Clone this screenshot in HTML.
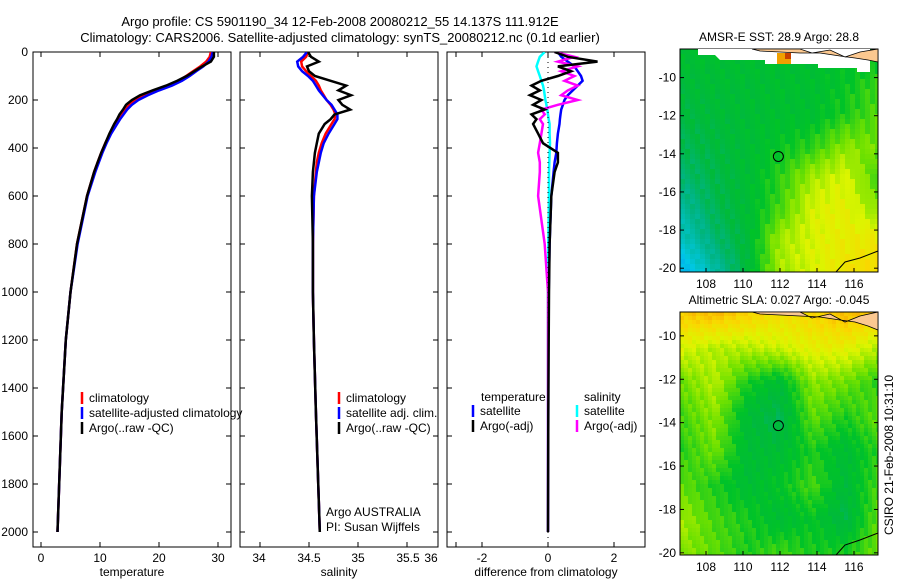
<!DOCTYPE html>
<html><head><meta charset="utf-8"><style>
body{margin:0;background:#fff;}
svg{display:block;font-family:"Liberation Sans",sans-serif;}
text{font-size:12px;fill:#000;}
</style></head><body>
<svg id="c" width="900" height="580"></svg>
<script>
const depths=[0,20,40,60,80,100,120,140,160,180,200,220,240,260,280,300,340,380,420,460,500,600,800,1000,1200,1500,2000];
const tempClim=[28.8,28.6,28,27,25.8,24.6,23.3,21.6,19.4,17.5,16,15,14.2,13.6,13.1,12.6,11.7,10.9,10.2,9.6,9,7.8,6.1,5,4.2,3.5,2.8];
const tempSat=[29.1,28.9,28.4,27.5,26.3,25.2,23.9,22.2,20,18.1,16.5,15.4,14.6,14,13.4,12.9,11.9,11.1,10.4,9.8,9.2,7.9,6.2,5,4.2,3.5,2.8];
const tempArgo=[29.3,29.3,28.8,27.3,26,24.7,23.1,21.2,18.9,16.8,15.4,14.4,13.9,13.3,12.9,12.4,11.6,10.9,10.2,9.6,9,7.8,6.1,5,4.2,3.5,2.8];
const salClim=[34.49,34.47,34.42,34.43,34.47,34.52,34.57,34.6,34.62,34.65,34.68,34.72,34.75,34.77,34.76,34.73,34.67,34.63,34.6,34.58,34.57,34.55,34.54,34.54,34.55,34.57,34.61];
const salSat=[34.48,34.44,34.38,34.39,34.43,34.49,34.54,34.57,34.6,34.64,34.68,34.73,34.76,34.79,34.79,34.76,34.7,34.65,34.62,34.6,34.58,34.55,34.54,34.54,34.55,34.57,34.61];
const salArgo=[34.49,34.52,34.6,34.48,34.5,34.56,34.72,34.88,34.8,34.93,34.8,34.84,34.92,34.76,34.72,34.66,34.6,34.58,34.56,34.55,34.54,34.53,34.54,34.54,34.55,34.57,34.61];
const dTempSat=[0.3,0.4,0.6,0.8,0.9,1.0,1.05,0.9,0.75,0.6,0.5,0.45,0.4,0.38,0.36,0.35,0.3,0.27,0.25,0.2,0.17,0.1,0.05,0.02,0.01,0.01,0];
const dTempArgo=[0.2,0.6,1.5,0.3,0.7,0.3,-0.2,-0.5,-0.25,-0.55,-0.2,-0.45,-0.1,-0.5,-0.35,-0.45,-0.3,-0.15,0.3,0.3,0.2,0.1,0.05,0.03,0.02,0.01,0];
const dSalSat=[-0.1,-0.25,-0.3,-0.35,-0.3,-0.25,-0.2,-0.15,-0.12,-0.1,-0.08,-0.05,-0.02,0,0.02,0.05,0.05,0.06,0.05,0.04,0.03,0.03,0.01,0,0,0,0];
const dSalArgo=[0.2,0.8,0.3,0.9,0.4,0.8,0.5,0.9,0.6,0.4,0.9,0.3,-0.2,-0.1,-0.25,-0.15,-0.2,-0.25,-0.3,-0.25,-0.25,-0.3,-0.1,0,0,0,0];
const depthTicks=[0,200,400,600,800,1000,1200,1400,1600,1800,2000];
const tempTicks=[0,10,20,30];
const salTicks=[34,34.5,35,35.5,36];
const diffTicks=[-2,0,2];
const lonTicks=[108,110,112,114,116];
const latTicks=[-10,-12,-14,-16,-18,-20];
const sstGrid=[[.48,.48,.48,.48,.48,.48,.48],[.46,.47,.47,.48,.48,.5,.54],[.45,.46,.47,.48,.48,.52,.56],[.43,.45,.47,.5,.53,.6,.58],[.4,.44,.47,.53,.62,.66,.55],[.35,.43,.47,.55,.66,.68,.6],[.3,.4,.46,.62,.66,.69,.7],[.2,.34,.46,.62,.66,.71,.74]];
const slaGrid=[[.76,.78,.75,.72,.74,.78,.76],[.66,.63,.63,.65,.68,.68,.63],[.58,.63,.52,.47,.6,.58,.53],[.55,.6,.47,.43,.57,.52,.57],[.53,.58,.47,.47,.52,.47,.53],[.57,.52,.47,.5,.55,.46,.55],[.62,.55,.52,.47,.5,.44,.57],[.6,.57,.52,.55,.52,.52,.58]];

const NS="http://www.w3.org/2000/svg";
const svg=document.getElementById('c');
function el(tag,attrs,parent){const e=document.createElementNS(NS,tag);for(const k in attrs)e.setAttribute(k,attrs[k]);(parent||svg).appendChild(e);return e;}
function txt(x,y,s,anchor,parent,size){const t=el('text',{x:x,y:y,'text-anchor':anchor||'start'},parent);if(size)t.style.fontSize=size+'px';t.textContent=s;return t;}
const yD=d=>52+0.24*d;

let t1=txt(340,26,"Argo profile: CS 5901190_34 12-Feb-2008 20080212_55 14.137S 111.912E",'middle',null,13);

let t2=txt(340,42,"Climatology: CARS2006. Satellite-adjusted climatology: synTS_20080212.nc (0.1d earlier)",'middle',null,13);


function panel(name,x0,x1,xf,xticks,xlabs,xtitle,series,showY){
  const g=el('g',{});
  
  const clip='cl'+name;
  const cp=el('clipPath',{id:clip},g);el('rect',{x:x0,y:52,width:x1-x0,height:495},cp);
  el('rect',{x:x0,y:52,width:x1-x0,height:495,fill:'none',stroke:'#000','stroke-width':1},g);
  xticks.forEach((v,i)=>{const x=xf(v);el('line',{x1:x,x2:x,y1:547,y2:542,stroke:'#000'},g);el('line',{x1:x,x2:x,y1:52,y2:57,stroke:'#000'},g);
    const lt=txt(xlabs?xlabs[i]:x,562,String(v),'middle',g);});
  depthTicks.forEach(d=>{const y=yD(d);el('line',{x1:x0,x2:x0+5,y1:y,y2:y,stroke:'#000'},g);el('line',{x1:x1,x2:x1-5,y1:y,y2:y,stroke:'#000'},g);
    if(showY){const lt=txt(x0-5,y+4,String(d),'end',g);}});
  const xt=txt((x0+x1)/2,576,xtitle,'middle',g);
  const lg=el('g',{'clip-path':'url(#'+clip+')'},g);
  series.forEach(s=>{const pts=s.v.map((v,i)=>xf(v).toFixed(1)+','+yD(depths[i]).toFixed(1)).join(' ');
    const p=el('polyline',{points:pts,fill:'none',stroke:s.c,'stroke-width':2.5},lg);
    });
  return g;
}
const xT=v=>41+5.9*v, xS=v=>260+98*(v-34), xDf=v=>548+33*v;
panel('temperature-panel',33,231,xT,tempTicks,null,'temperature',[{v:tempClim,c:'#f00',n:'temp-climatology-line'},{v:tempSat,c:'#00f',n:'temp-satellite-line'},{v:tempArgo,c:'#000',n:'temp-argo-line'}],true);
panel('salinity-panel',240,438,xS,salTicks,[259,309,358,408,431],'salinity',[{v:salClim,c:'#f00',n:'sal-climatology-line'},{v:salSat,c:'#00f',n:'sal-satellite-line'},{v:salArgo,c:'#000',n:'sal-argo-line'}],false);
const dp=panel('difference-panel',447,645,xDf,diffTicks,null,'difference from climatology',[{v:dTempSat,c:'#00f',n:'dtemp-satellite-line'},{v:dSalSat,c:'#0ff',n:'dsal-satellite-line'},{v:dSalArgo,c:'#f0f',n:'dsal-argo-line'},{v:dTempArgo,c:'#000',n:'dtemp-argo-line'}],false);
el('line',{x1:548,x2:548,y1:52,y2:547,stroke:'#000','stroke-dasharray':'1,4'},dp);

function legend(name,x,y,items,parent){
  const g=el('g',{},parent);
  items.forEach((it,i)=>{const yy=y+i*15;el('line',{x1:x,x2:x,y1:yy-10,y2:yy+2,stroke:it[1],'stroke-width':2.5},g);
    const e=txt(x+7,yy,it[0],'start',g);});
}
legend('temp-legend',82,402,[['climatology','#f00'],['satellite-adjusted climatology','#00f'],['Argo(..raw -QC)','#000']]);
legend('sal-legend',339,402,[['climatology','#f00'],['satellite adj. clim.','#00f'],['Argo(..raw -QC)','#000']]);
legend('dtemp-legend',473,415,[['satellite','#00f'],['Argo(-adj)','#000']]);
legend('dsal-legend',577,415,[['satellite','#0ff'],['Argo(-adj)','#f0f']]);
txt(481,401,'temperature');txt(584,401,'salinity');
txt(326,516,'Argo AUSTRALIA');txt(326,531,'PI: Susan Wijffels');

function cmap(v){const st=[[0,[0,90,255]],[.25,[0,200,230]],[.38,[0,180,130]],[.45,[0,185,60]],[.5,[0,195,40]],[.58,[110,225,0]],[.66,[220,245,0]],[.74,[250,215,0]],[.85,[245,140,0]],[1,[200,40,0]]];
  for(let i=1;i<st.length;i++){if(v<=st[i][0]){const a=st[i-1],b=st[i],f=(v-a[0])/(b[0]-a[0]);return 'rgb('+a[1].map((c,k)=>Math.round(c+(b[1][k]-c)*f)).join(',')+')';}}return 'rgb(200,40,0)';}
function map(name,x0,y0,w,h,grid,latTop,latBot,title,cell){
  const g=el('g',{});
  const nx=Math.ceil(w/cell),ny=Math.ceil(h/cell);
  for(let j=0;j<ny;j++)for(let i=0;i<nx;i++){
    const gx=i/(nx-1)*6,gy=j/(ny-1)*7;const ix=Math.min(5,Math.floor(gx)),iy=Math.min(6,Math.floor(gy));const fx=gx-ix,fy=gy-iy;
    let v=grid[iy][ix]*(1-fx)*(1-fy)+grid[iy][ix+1]*fx*(1-fy)+grid[iy+1][ix]*(1-fx)*fy+grid[iy+1][ix+1]*fx*fy;
    v+=(((i*73+j*151)%17)/17-0.5)*0.04;
    el('rect',{x:x0+i*cell,y:y0+j*cell,width:Math.min(cell+0.5,x0+w-(x0+i*cell)),height:Math.min(cell+0.5,y0+h-(y0+j*cell)),fill:cmap(v)},g);}
  const lt=(la)=>y0+(la-latTop)/(latBot-latTop)*h;
  const ln=(lo)=>706+(lo-108)*18.5;
  el('rect',{x:x0,y:y0,width:w,height:h,fill:'none',stroke:'#000'},g);
  lonTicks.forEach(lo=>{const x=ln(lo);el('line',{x1:x,x2:x,y1:y0+h,y2:y0+h-4,stroke:'#000'},g);const e=txt(x,y0+h+16,String(lo),'middle',g);});
  latTicks.forEach(la=>{const y=lt(la);el('line',{x1:x0,x2:x0+4,y1:y,y2:y,stroke:'#000'},g);el('line',{x1:x0+w,x2:x0+w-4,y1:y,y2:y,stroke:'#000'},g);const e=txt(x0-4,y+4,String(la),'end',g);});
  const tt=txt(x0+w/2,y0-8,title,'middle',g);
  const c=el('circle',{cx:ln(111.912),cy:lt(-14.137),r:5,fill:'none',stroke:'#000'},g);
  return {g,lt,ln};
}
const m1=map('sst-map',680,49,198,223,sstGrid,-8.5,-20.2,'AMSR-E SST: 28.9 Argo: 28.8',5);
el('path',{d:'M698,49 L870,49 L870,72 L857,72 L857,68 L818,68 L818,64 L765,64 L765,60 L720,60 L715,55 L698,55 Z',fill:'#fff'},m1.g);
el('path',{d:'M752,49 L800,49 L812,53 L830,50 L845,57 L860,52 L878,49 L878,62 L868,60 L855,58 L840,56 L820,53 L800,53 L780,52 L760,51 Z',fill:'#fbc890',stroke:'#000','stroke-width':0.8},m1.g);
el('rect',{x:777,y:53,width:14,height:11,fill:'#f0a000'},m1.g);
el('rect',{x:785,y:53,width:6,height:6,fill:'#c84000'},m1.g);
el('path',{d:'M836,272 L845,262 L860,258 L878,251',fill:'none',stroke:'#000'},m1.g);
const m2=map('sla-map',680,312,198,243,slaGrid,-8.9,-20.1,'Altimetric SLA: 0.027 Argo: -0.045',4);
el('path',{d:'M752,312 L800,312 L812,318 L830,314 L845,322 L860,316 L878,312 L878,330 L868,326 L855,322 L840,320 L820,317 L800,316 L780,315 L760,314 Z',fill:'#fbc890',stroke:'#000','stroke-width':0.8},m2.g);
el('path',{d:'M836,555 L845,545 L860,540 L878,533',fill:'none',stroke:'#000'},m2.g);
const side=txt(0,0,'CSIRO 21-Feb-2008 10:31:10','middle');
side.setAttribute('transform','translate(893,455) rotate(-90)');


</script>
</body></html>
